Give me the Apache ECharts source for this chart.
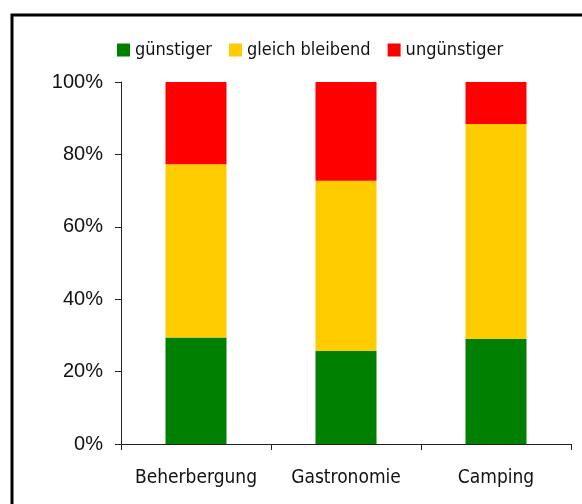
<!DOCTYPE html>
<html>
<head>
<meta charset="utf-8">
<script src="https://cdn.jsdelivr.net/npm/echarts@6/dist/echarts.min.js"></script>
<style>
  html, body { margin: 0; padding: 0; background: #fff; }
  #chart { width: 582px; height: 504px; }
</style>
</head>
<body>
<div id="chart"></div>
<script>
var categories = ['Beherbergung', 'Gastronomie', 'Camping'];
var guenstiger = [29.4, 25.7, 29.0];
var gleichBleibend = [47.9, 47.0, 59.4];
var unguenstiger = [22.7, 27.3, 11.6];
var seriesNames = ['günstiger', 'gleich bleibend', 'ungünstiger'];

var labelFont = "'DejaVu Sans Condensed', 'Liberation Sans Narrow', 'DejaVu Sans', sans-serif";

var chart = echarts.init(document.getElementById('chart'));
var option = {
    animation: false,
    color: ['#008000', '#FFCC00', '#FF0000'],
    graphic: [
        {
            type: 'rect',
            shape: { x: 12, y: 15, width: 620, height: 600 },
            style: { fill: 'none', stroke: '#000', lineWidth: 3 },
            silent: true
        }
    ],
    legend: {
        left: 112,
        top: 36,
        itemWidth: 13,
        itemHeight: 13,
        itemGap: 17,
        icon: 'rect',
        textStyle: {
            fontFamily: labelFont,
            fontSize: 18,
            color: '#111'
        },
        data: seriesNames
    },
    grid: {
        left: 121,
        right: 11,
        top: 82,
        bottom: 60
    },
    xAxis: {
        type: 'category',
        data: categories,
        axisLine: { lineStyle: { color: '#222', width: 1 } },
        axisTick: { show: true, length: 6, lineStyle: { color: '#222' } },
        axisLabel: {
            interval: 0,
            hideOverlap: false,
            margin: 25,
            fontFamily: labelFont,
            fontSize: 19,
            color: '#111'
        }
    },
    yAxis: {
        type: 'value',
        min: 0,
        max: 100,
        interval: 20,
        axisLine: { show: true, lineStyle: { color: '#222', width: 1 } },
        axisTick: { show: true, length: 6, lineStyle: { color: '#222' } },
        splitLine: { show: false },
        axisLabel: {
            margin: 18,
            formatter: '{value}%',
            fontFamily: "'Liberation Sans', Arial, sans-serif",
            fontSize: 20,
            color: '#111'
        }
    },
    series: [
        { name: seriesNames[0], type: 'bar', stack: 'total', barWidth: 61, data: guenstiger },
        { name: seriesNames[1], type: 'bar', stack: 'total', barWidth: 61, data: gleichBleibend },
        { name: seriesNames[2], type: 'bar', stack: 'total', barWidth: 61, data: unguenstiger }
    ]
};
chart.setOption(option);
</script>
</body>
</html>
